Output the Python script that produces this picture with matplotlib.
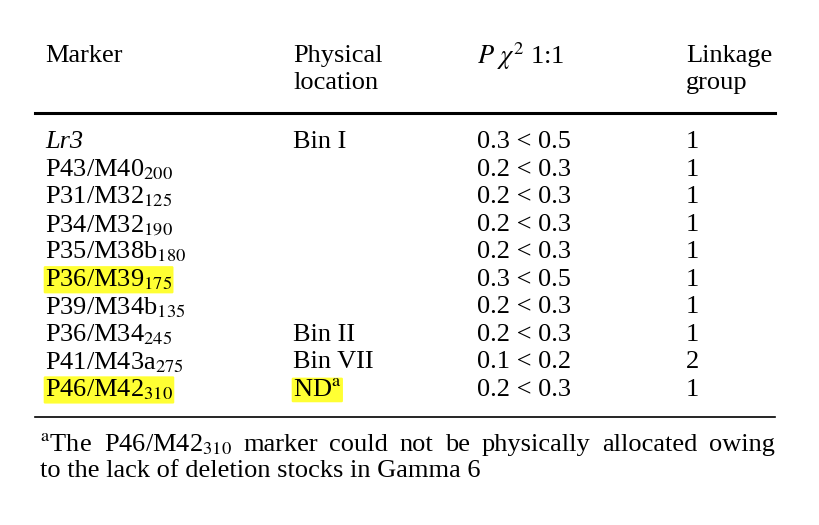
import matplotlib
matplotlib.use("Agg")
import matplotlib.pyplot as plt
from matplotlib.lines import Line2D

plt.rcParams['font.family'] = ['Liberation Serif', 'DejaVu Serif']
plt.rcParams['mathtext.fontset'] = 'stix'

markers = ["Lr3", "P43/M40", "P31/M32", "P34/M32", "P35/M38b", "P36/M39",
           "P39/M34b", "P36/M34", "P41/M43a", "P46/M42"]
subs = ["", "200", "125", "190", "180", "175", "135", "245", "275", "310"]
locations = ["Bin I", "", "", "", "", "", "", "Bin II", "Bin VII", "ND$^{\\mathrm{a}}$"]
pvals = ["0.3 < 0.5", "0.2 < 0.3", "0.2 < 0.3", "0.2 < 0.3", "0.2 < 0.3",
         "0.3 < 0.5", "0.2 < 0.3", "0.2 < 0.3", "0.1 < 0.2", "0.2 < 0.3"]
groups = ["1", "1", "1", "1", "1", "1", "1", "1", "2", "1"]
highlight = [False, False, False, False, False, True, False, False, False, True]
foot1 = ["$^{\\mathrm{a}}$The", "P46/M42$_{\\mathrm{310}}$", "marker", "could", "not", "be",
         "physically", "allocated", "owing"]
foot2 = "to the lack of deletion stocks in Gamma 6"

W, H = 820, 525
fig = plt.figure(figsize=(8.2, 5.25), dpi=100)
def X(px): return px / W
def Y(py): return 1 - py / H
fs = 19
yel = dict(facecolor='#ffff33', edgecolor='none', boxstyle='round,pad=0.05')

def t(x, y, s, **kw):
    return fig.text(X(x), Y(y), s, fontsize=kw.pop('fs', fs), va='center', ha='left', **kw)

t(45, 56, "Marker")
t(293, 56, "Physical")
t(293, 83, "location")
t(477, 56, r"$P$ $\chi^2$ 1:1")
t(686, 56, "Linkage")
t(686, 83, "group")
fig.add_artist(Line2D([X(35), X(775)], [Y(113), Y(113)], color='black', lw=2.2))

y0, dy = 142, 27.55
for i in range(len(markers)):
    y = y0 + i * dy
    if i == 0:
        s = markers[i]
        kw = dict(style='italic')
    else:
        s = markers[i] + "$_{\\mathrm{" + subs[i] + "}}$"
        kw = {}
    if highlight[i]:
        kw['bbox'] = yel
    t(45, y, s, **kw)
    if locations[i]:
        kwl = dict(bbox=yel) if highlight[i] else {}
        t(293, y, locations[i], **kwl)
    t(477, y, pvals[i])
    t(686, y, groups[i])

fig.add_artist(Line2D([X(35), X(775)], [Y(417), Y(417)], color='black', lw=1.2))

# justified first footnote line
r = fig.canvas.get_renderer()
objs = [t(0, 445, w) for w in foot1]
widths = [o.get_window_extent(r).width for o in objs]
gap = (775 - 40 - sum(widths)) / (len(objs) - 1)
x = 40
for o, w in zip(objs, widths):
    o.set_x(X(x))
    x += w + gap
t(40, 471, foot2)

fig.savefig("out.png", dpi=100, facecolor='white')
